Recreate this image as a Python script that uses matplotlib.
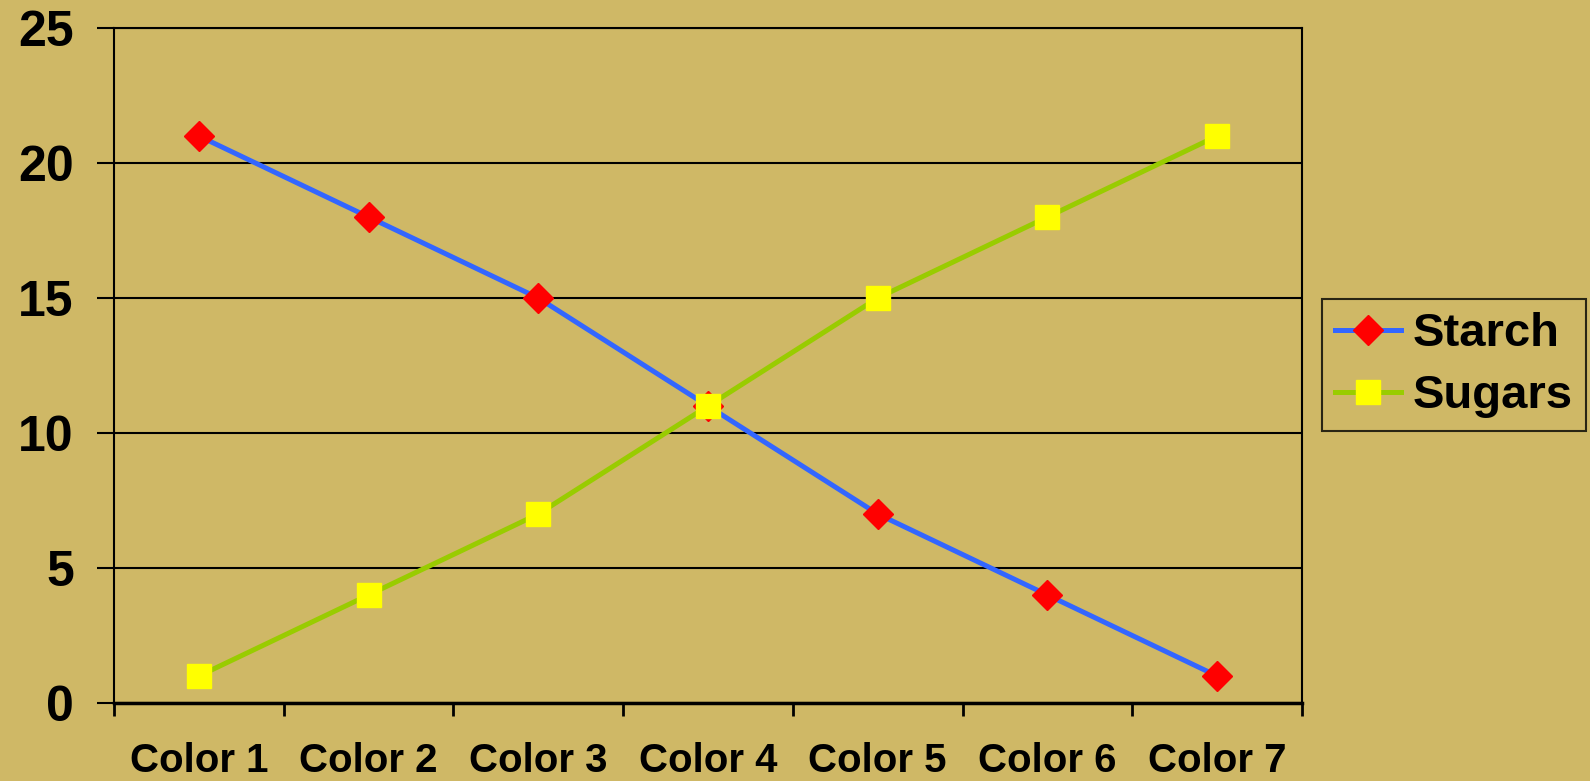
import numpy as np
import matplotlib
matplotlib.use("Agg")
import matplotlib.pyplot as plt

# donnees du graphique
categories = ["Color 1", "Color 2", "Color 3", "Color 4", "Color 5", "Color 6", "Color 7"]
starch = [21, 18, 15, 11, 7, 4, 1]
sugars = [1, 4, 7, 11, 15, 18, 21]
yticks = [0, 5, 10, 15, 20, 25]

fond = "#CFB866"
plt.rcParams['font.family'] = ['Liberation Sans', 'DejaVu Sans']

fig = plt.figure(figsize=(15.9, 7.81), dpi=100, facecolor=fond)
ax = fig.add_axes([114/1590, 1-703/781, (1302-114)/1590, (703-28)/781])
ax.set_facecolor(fond)

x = np.arange(len(categories))
ax.plot(x, starch, color="#3366FF", lw=3.6, marker="D", ms=15,
        mfc="#FF0000", mec="#FF0000", label="Starch", zorder=3)
ax.plot(x, sugars, color="#99CC00", lw=3.6, marker="s", ms=17.5,
        mfc="#FFFF00", mec="#FFFF00", label="Sugars", zorder=3)

ax.set_xlim(-0.5, len(categories)-0.5)
ax.set_ylim(0, 25)
ax.set_yticks(yticks)
ax.set_yticklabels([str(v) for v in yticks], fontsize=36, fontweight="bold")
ax.yaxis.grid(True, color="black", lw=1.5)
ax.set_axisbelow(True)

# ticks de categories entre les etiquettes
ax.set_xticks(np.arange(-0.5, len(categories), 1.0))
ax.set_xticklabels([])
ax.set_xticks(x, minor=True)
ax.set_xticklabels(categories, minor=True, fontsize=29, fontweight="bold")
ax.tick_params(axis="x", which="minor", length=0, pad=28)
ax.tick_params(axis="x", which="major", length=9, width=2, direction="out")
ax.tick_params(axis="y", length=12, width=1.5, pad=17)

for s in ax.spines.values():
    s.set_linewidth(1.5)
    s.set_color("black")
ax.spines["bottom"].set_linewidth(2.5)

leg = ax.legend(loc="upper left", bbox_to_anchor=(1322/1590, 1-299/781),
                bbox_transform=fig.transFigure,
                prop={"size": 34, "weight": "bold"}, frameon=True, fancybox=False,
                handlelength=1.4, handletextpad=0.25, borderaxespad=0, labelspacing=0.38,
                borderpad=0.28)
leg.get_frame().set_edgecolor("black")
leg.get_frame().set_linewidth(1.5)
leg.get_frame().set_facecolor(fond)

fig.savefig("out.png", dpi=100, facecolor=fond)
